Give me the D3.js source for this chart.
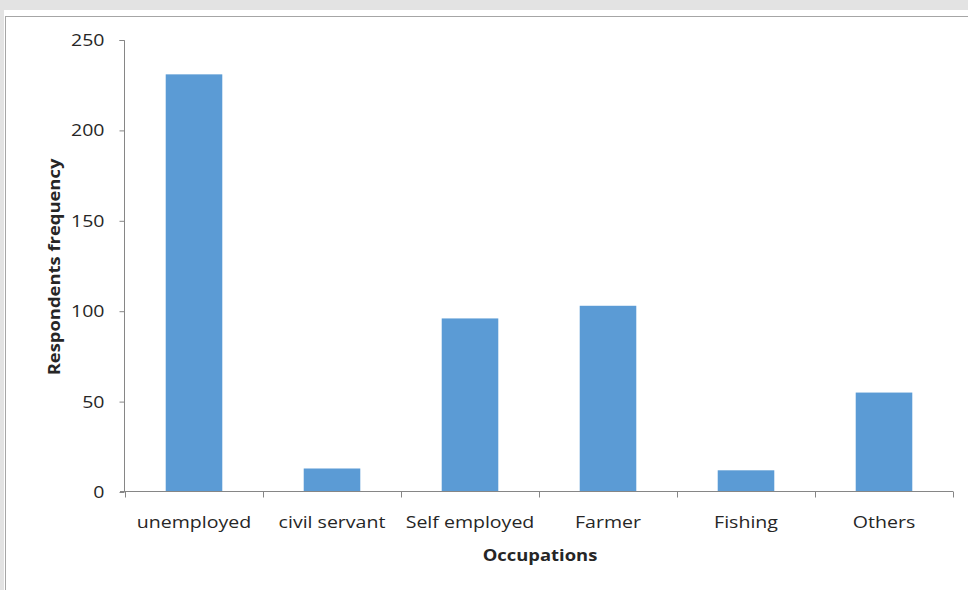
<!DOCTYPE html>
<html>
<head>
<meta charset="utf-8">
<script src="https://cdn.jsdelivr.net/npm/d3@7/dist/d3.min.js"></script>
<style>
  html, body { margin: 0; padding: 0; background: #e3e3e3; }
  svg { display: block; }
  text { font-family: "Open Sans", "Noto Sans", sans-serif; fill: #262626; }
</style>
</head>
<body>
<svg id="chart" width="968" height="590"></svg>
<script>
// Occupation of respondents
const categories = ["unemployed", "civil servant", "Self employed", "Farmer", "Fishing", "Others"];
const frequencies = [231, 13, 96, 103, 12, 55];
const yTicks = [0, 50, 100, 150, 200, 250];

// labels are drawn slightly widened
const stretch = "scale(1.15,1)";

const svg = d3.select("#chart");

// panel with a thin border
svg.append("rect").attr("x", 4).attr("y", 10).attr("width", 980).attr("height", 600).attr("fill", "#ffffff");
svg.append("rect").attr("x", 5.5).attr("y", 16.5).attr("width", 980).attr("height", 600)
  .attr("fill", "#ffffff").attr("stroke", "#a6a6a6").attr("stroke-width", 1);

const plot = { left: 125, right: 953, top: 40, bottom: 492 };

const x = d3.scaleBand().domain(categories).range([plot.left, plot.right]).paddingInner(0.59).paddingOuter(0.295);
const y = d3.scaleLinear().domain([0, 250]).range([plot.bottom, plot.top]);

// bars
svg.append("g").selectAll("rect").data(categories).join("rect")
  .attr("x", d => x(d))
  .attr("width", x.bandwidth())
  .attr("y", (d, i) => y(frequencies[i]))
  .attr("height", (d, i) => y(0) - y(frequencies[i]))
  .attr("fill", "#5b9bd5");

// y axis
const yAxis = svg.append("g").attr("transform", `translate(${plot.left - 0.5},0)`)
  .call(d3.axisLeft(y).tickValues(yTicks).tickSize(5).tickPadding(10).tickFormat(d3.format("d")));
yAxis.select(".domain").attr("stroke", "#868686").attr("d", `M-5,${plot.top + 0.5}H0V${plot.bottom}`);
yAxis.selectAll(".tick line").attr("stroke", "#868686");
yAxis.selectAll(".tick text")
  .attr("x", 0)
  .attr("transform", "translate(-20,0) " + stretch)
  .attr("font-size", 17).attr("fill", "#262626")
  .style("font-family", "'Open Sans', 'Noto Sans', sans-serif");

// x axis with ticks at category boundaries
const xAxisG = svg.append("g").attr("transform", `translate(0,${plot.bottom - 0.5})`);
xAxisG.append("line").attr("x1", plot.left - 5).attr("x2", plot.right).attr("y1", 0).attr("y2", 0).attr("stroke", "#868686");
const bounds = d3.range(categories.length + 1).map(i => plot.left + i * (plot.right - plot.left) / categories.length);
xAxisG.selectAll("line.tk").data(bounds).join("line").attr("class", "tk")
  .attr("x1", d => Math.round(d) + 0.5).attr("x2", d => Math.round(d) + 0.5)
  .attr("y1", 0).attr("y2", 6).attr("stroke", "#868686");
xAxisG.selectAll("text").data(categories).join("text")
  .attr("transform", d => `translate(${x(d) + x.bandwidth() / 2},36) ${stretch}`)
  .attr("text-anchor", "middle")
  .attr("font-size", 17)
  .text(d => d);

// axis titles
svg.append("text").attr("transform", `translate(540,561) ${stretch}`).attr("text-anchor", "middle")
  .attr("font-size", 16).attr("font-weight", "bold").text("Occupations");
svg.append("text").attr("transform", `translate(60,267) rotate(-90) ${stretch}`).attr("text-anchor", "middle")
  .attr("font-size", 16).attr("font-weight", "bold").text("Respondents frequency");
</script>
</body>
</html>
